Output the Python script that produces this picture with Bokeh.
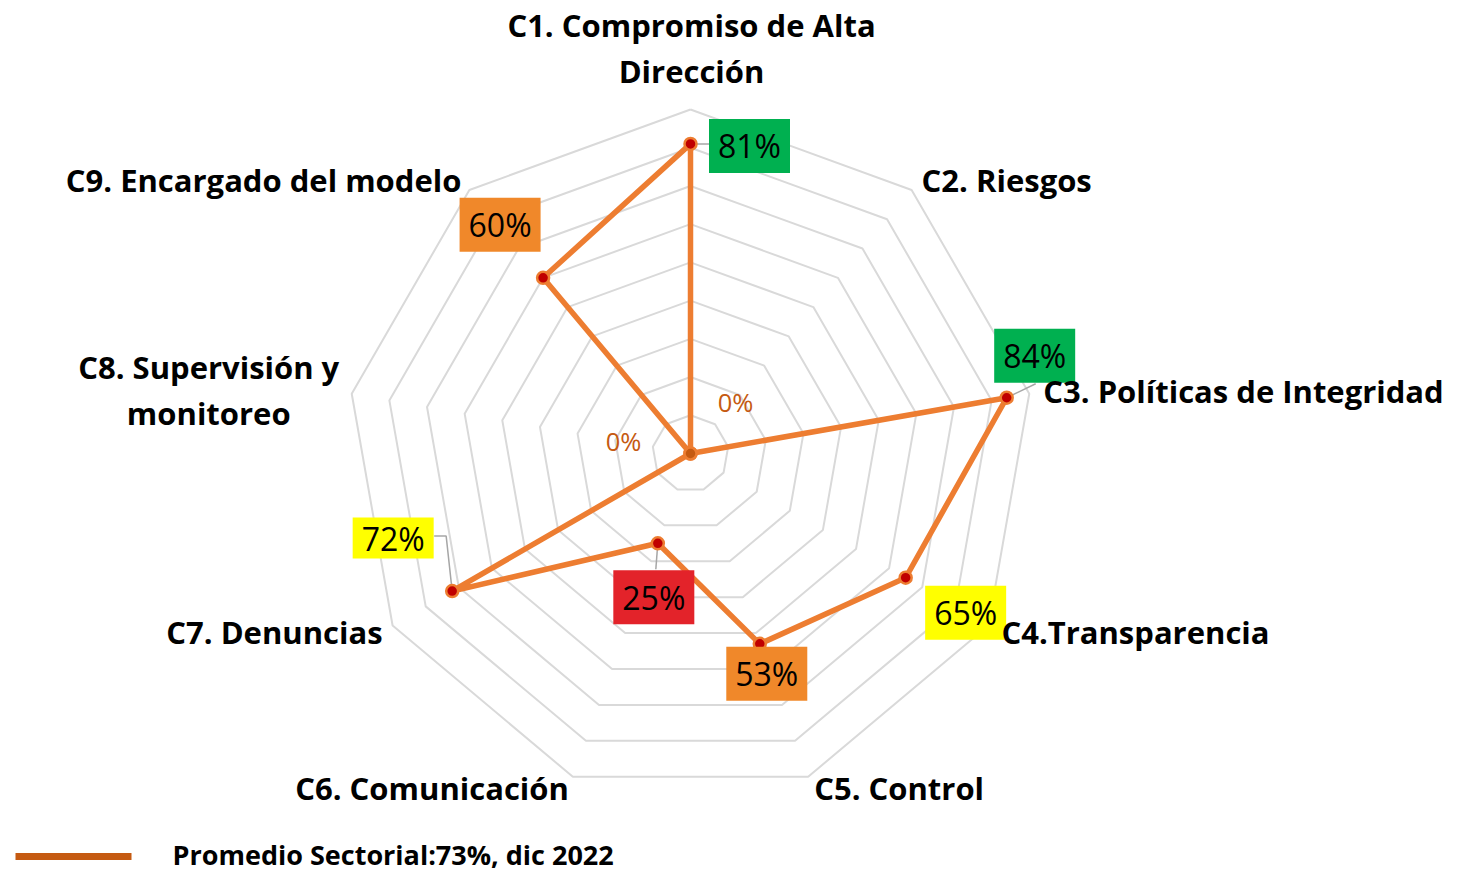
import numpy as np
from bokeh.plotting import figure
from bokeh.models import Range1d
from bokeh.embed import file_html
from bokeh.resources import INLINE
from bokeh.core.properties import value

# ---------------- data ----------------
categories = [
    "C1. Compromiso de Alta\nDirección",
    "C2. Riesgos",
    "C3. Políticas de Integridad",
    "C4.Transparencia",
    "C5. Control",
    "C6. Comunicación",
    "C7. Denuncias",
    "C8. Supervisión y\nmonitoreo",
    "C9. Encargado del modelo",
]
values = [0.81, 0.00, 0.84, 0.65, 0.53, 0.25, 0.72, 0.00, 0.60]
value_labels = ["81%", "0%", "84%", "65%", "53%", "25%", "72%", "0%", "60%"]
label_box_colors = ["#00B050", None, "#00B050", "#FFFF00", "#F0882A",
                    "#E3232A", "#FFFF00", None, "#F0882A"]
ring_levels = [0.1, 0.2, 0.3, 0.4, 0.5, 0.6, 0.7, 0.8, 0.9]
r_max = 0.9
series_name = "Promedio Sectorial:73%, dic 2022"

# ---------------- layout / style ----------------
W, H = 1454, 877
cx, cy = 690, H - 453      # centre of the radar (pixel-like data units, y up)
R = 344                    # radius of outer ring
n = len(categories)
theta = [2 * np.pi * i / n for i in range(n)]

def polar(v, t):
    r = R * v / r_max
    return cx + r * np.sin(t), cy + r * np.cos(t)

# label box offsets relative to the point (dx, dy) in px (y up), box heights
box_off = [(59, -2), (45, 52), (28, 42), (60, -35), (7, -30),
           (-4, -54), (-59, 53), (-67, 13), (-43, 53)]
box_h = [54, 0, 54, 54, 54, 54, 41, 0, 54]
leaders = {0: [(0, 0), (19, 0)],
           2: [(0, 0), (29, 14)],
           5: [(0, 0), (-2, -26)],
           6: [(0, 0), (-6, 55), (-18, 55)]}
# category label offsets from the outer-ring vertex, and alignment
cat_off = [(1, 61.5), (10, 10), (14, 3), (13, -6), (6, -11),
           (-4, -11), (-10, -6), (-143, 3.5), (-8, 10)]
cat_align = ["center", "left", "left", "left", "left",
             "right", "right", "center", "right"]

FONT = "Open Sans"

p = figure(width=W, height=H, x_range=Range1d(0, W), y_range=Range1d(0, H),
           x_axis_type=None, y_axis_type=None, toolbar_location=None,
           output_backend="svg", min_border=0, outline_line_color=None,
           background_fill_color="white", border_fill_color="white")
p.grid.visible = False

# grid rings
ring_xs, ring_ys = [], []
for lv in ring_levels:
    pts = [polar(lv, t) for t in theta] + [polar(lv, theta[0])]
    ring_xs.append([q[0] for q in pts])
    ring_ys.append([q[1] for q in pts])
p.multi_line(ring_xs, ring_ys, line_color="#D9D9D9", line_width=2)

# series line
pts = [polar(v, t) for v, t in zip(values, theta)]
px = [q[0] for q in pts]
py = [q[1] for q in pts]
p.line(px + [px[0]], py + [py[0]], line_color="#ED7D31", line_width=5.5,
       line_join="round")

# leader lines
for i, segs in leaders.items():
    p.line([px[i] + s[0] for s in segs], [py[i] + s[1] for s in segs],
           line_color="#A6A6A6", line_width=1.5)

# markers
mfill = ["#C55A11" if v == 0 else "#C00000" for v in values]
p.scatter(px, py, size=12, fill_color=mfill, line_color="#ED7D31",
          line_width=2.5)

# data label boxes + texts
bx, by, bw, bh, bc, bt = [], [], [], [], [], []
zx, zy, zt = [], [], []
for i in range(n):
    x = px[i] + box_off[i][0]
    y = py[i] + box_off[i][1]
    if label_box_colors[i] is None:
        zx.append(x); zy.append(y); zt.append(value_labels[i])
    else:
        bx.append(x); by.append(y); bw.append(81); bh.append(box_h[i])
        bc.append(label_box_colors[i]); bt.append(value_labels[i])
p.rect(bx, by, width=bw, height=bh, fill_color=bc, line_color=None)
p.text(bx, by, text=bt, text_align="center", text_baseline="middle",
       text_font=value(FONT), text_font_size="32px", text_color="black")
p.text(zx, zy, text=zt, text_align="center", text_baseline="middle",
       text_font=value(FONT), text_font_size="25.5px", text_color="#C55A11")

# category labels
for align in ["left", "center", "right"]:
    xs, ys, ts = [], [], []
    for i in range(n):
        if cat_align[i] != align:
            continue
        vx, vy = polar(r_max, theta[i])
        xs.append(vx + cat_off[i][0]); ys.append(vy + cat_off[i][1])
        ts.append(categories[i])
    p.text(xs, ys, text=ts, text_align=align, text_baseline="middle",
           text_font=value(FONT), text_font_style="bold",
           text_font_size="31px", text_color="black", text_line_height=1.1)

# legend
p.line([15, 131], [H - 856, H - 856], line_color="#C55A11", line_width=7)
p.text([172], [H - 854], text=[series_name], text_align="left",
       text_baseline="middle", text_font=value(FONT), text_font_style="bold",
       text_font_size="27px", text_color="black")

open("out.html", "w").write(file_html(p, INLINE))
